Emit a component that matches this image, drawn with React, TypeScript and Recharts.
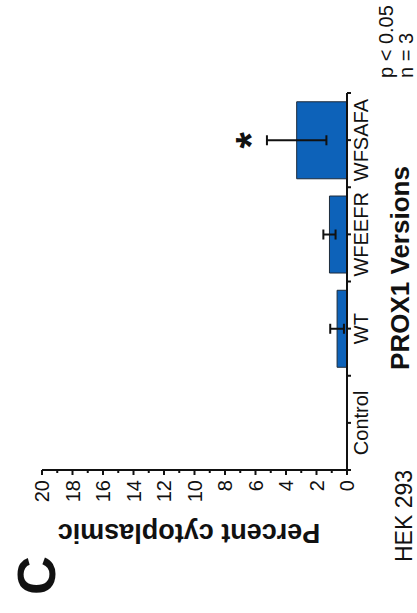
import { BarChart, Bar, XAxis, YAxis, ErrorBar, LabelList } from 'recharts';

// PROX1 versions, HEK 293 cells, percent cytoplasmic (mean ± error)
const versions = ['Control', 'WT', 'WFEEFR', 'WFSAFA'];
const cytoplasmic = [0, 0.65, 1.15, 3.3];
const errors = [0, 0.45, 0.4, 1.95];
const significance = ['', '', '', '*'];
const percentTicks = [0, 1, 2, 3, 4, 5, 6, 7, 8, 9, 10, 11, 12, 13, 14, 15, 16, 17, 18, 19, 20];

const data = versions.map((version, i) => ({
  version,
  value: cytoplasmic[i],
  err: errors[i],
  sig: significance[i],
}));

// the figure is drawn upright and then turned a quarter turn left
const W = 613;
const H = 417;
const MARGIN = { top: 42, right: 93, bottom: 40, left: 83 };
const Y_AXIS_W = 60;
const X_AXIS_H = 30;
const PLOT_W = W - MARGIN.left - MARGIN.right - Y_AXIS_W;
const BAND = PLOT_W / versions.length;

const FONT = '"Liberation Sans", Arial, sans-serif';
const INK = '#111';

const PercentTick = (props: any) => {
  const { x, y, payload } = props;
  const major = payload.value % 2 === 0;
  return (
    <g>
      <line x1={x - (major ? 5 : 3)} x2={x} y1={y} y2={y} stroke={INK} strokeWidth={2} />
      {major && (
        <text x={x - 10} y={y} dy="0.36em" textAnchor="end" fontSize={20} fill={INK} fontFamily={FONT}>
          {payload.value}
        </text>
      )}
    </g>
  );
};

const VersionTick = (props: any) => {
  const { x, y, payload, index } = props;
  const last = index === versions.length - 1;
  return (
    <g>
      <line x1={x} x2={x} y1={y} y2={y + 4} stroke={INK} strokeWidth={2} />
      <line x1={x - BAND / 2} x2={x - BAND / 2} y1={y} y2={y + 4} stroke={INK} strokeWidth={2} />
      {last && <line x1={x + BAND / 2} x2={x + BAND / 2} y1={y} y2={y + 4} stroke={INK} strokeWidth={2} />}
      <text x={x} y={y + 21} textAnchor="middle" fontSize={20} fill={INK} fontFamily={FONT}>
        {payload.value}
      </text>
    </g>
  );
};

// star sits a little above the top of the error bar
const StarLabel = (props: any) => {
  const { x, y, width, height, value, index } = props;
  if (!value) return null;
  const pxPerUnit = Number(height) / cytoplasmic[index];
  const errTop = Number(y) - errors[index] * pxPerUnit;
  return (
    <text
      x={Number(x) + Number(width) / 2}
      y={errTop - 14}
      textAnchor="middle"
      fontSize={42}
      fontWeight="bold"
      fill={INK}
      fontFamily={FONT}
    >
      {value}
    </text>
  );
};

export default function App() {
  return (
    <div
      style={{
        position: 'absolute',
        left: 0,
        top: 0,
        width: W,
        height: H,
        background: '#fff',
        transformOrigin: '0 0',
        transform: `translate(0px, ${W}px) rotate(-90deg)`,
      }}
    >
      <BarChart width={W} height={H} data={data} margin={MARGIN} barCategoryGap="9%">
        <XAxis
          dataKey="version"
          height={X_AXIS_H}
          interval={0}
          tickLine={false}
          tickSize={0}
          tickMargin={0}
          axisLine={{ stroke: INK, strokeWidth: 2 }}
          tick={<VersionTick />}
        />
        <YAxis
          width={Y_AXIS_W}
          domain={[0, 20]}
          ticks={percentTicks}
          interval={0}
          tickLine={false}
          tickSize={0}
          tickMargin={0}
          axisLine={{ stroke: INK, strokeWidth: 2 }}
          tick={<PercentTick />}
        />
        <Bar dataKey="value" fill="#0d62b9" stroke="#1d2b3a" strokeWidth={1} isAnimationActive={false}>
          <ErrorBar dataKey="err" width={5} strokeWidth={2} stroke={INK} isAnimationActive={false} />
          <LabelList dataKey="sig" content={<StarLabel />} />
        </Bar>
      </BarChart>
      <svg
        width={W}
        height={H}
        style={{ position: 'absolute', left: 0, top: 0, pointerEvents: 'none' }}
        fontFamily={FONT}
        fill={INK}
      >
        <text x={18} y={55} fontSize={54} fontWeight="bold">C</text>
        <text x={89} y={189} transform="rotate(-90, 89, 189)" textAnchor="middle" fontSize={27} fontWeight="bold">
          Percent cytoplasmic
        </text>
        <text x={345} y={409} textAnchor="middle" fontSize={26} fontWeight="bold">PROX1 Versions</text>
        <text x={51} y={412} fontSize={23}>HEK 293</text>
        <text x={535} y={393} fontSize={20}>p &lt; 0.05</text>
        <text x={535} y={413} fontSize={20}>n = 3</text>
      </svg>
    </div>
  );
}
